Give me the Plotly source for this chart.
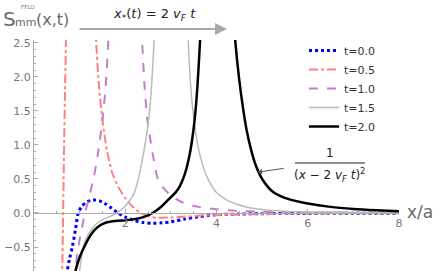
import plotly.graph_objects as go

# ---------------- data ----------------
t_labels = ["t=0.0", "t=0.5", "t=1.0", "t=1.5", "t=2.0"]

x_t00 = [0.70, 0.73, 0.78, 0.84, 0.91, 0.97, 1.05, 1.15, 1.25, 1.34, 1.45, 1.55, 1.68, 1.84,
         2.0, 2.2, 2.4, 2.6, 2.8, 3.0, 3.3, 3.6, 4.0, 4.5, 5.0, 6.0, 7.0, 8.0]
y_t00 = [-1.0, -0.85, -0.67, -0.5, -0.24, 0.0, 0.10, 0.16, 0.185, 0.19, 0.175, 0.14, 0.08, 0.0,
         -0.06, -0.11, -0.14, -0.15, -0.145, -0.13, -0.09, -0.055, -0.025, -0.015, -0.01, -0.006, -0.004, -0.003]

x_t05 = [0.615, 0.625, 0.635, 0.645, 0.66, 0.68, 0.70, 0.72, None,
         1.33, 1.36, 1.42, 1.50, 1.60, 1.72, 1.85, 2.0, 2.15, 2.33, 2.5, 2.7, 3.0, 3.4, 3.8, 4.3, 5.0, 6.0, 7.0, 8.0]
y_t05 = [-1.0, -0.6, -0.2, 0.3, 1.0, 1.8, 2.5, 3.0, None,
         3.0, 2.55, 1.9, 1.37, 0.92, 0.58, 0.38, 0.22, 0.10, 0.0, -0.05, -0.07, -0.065, -0.05, -0.035, -0.025, -0.015, -0.008, -0.005, -0.003]

x_t10 = [0.88, 0.905, 0.96, 1.03, 1.12, 1.21, 1.30, 1.40, 1.50, 1.57, 1.63, 1.66, None,
         2.35, 2.37, 2.42, 2.48, 2.55, 2.62, 2.72, 2.85, 3.0, 3.27, 3.6, 4.0, 4.5, 5.0, 6.0, 7.0, 8.0]
y_t10 = [-1.0, -0.84, -0.55, -0.28, 0.0, 0.24, 0.49, 0.86, 1.37, 1.85, 2.54, 3.0, None,
         3.0, 2.54, 1.9, 1.4, 1.08, 0.8, 0.49, 0.36, 0.26, 0.15, 0.09, 0.055, 0.03, 0.018, 0.008, 0.005, 0.003]

x_t15 = [0.97, 1.02, 1.1, 1.2, 1.35, 1.5, 1.7, 1.9, 2.05, 2.2, 2.32, 2.42, 2.5, 2.57, 2.63, 2.67, None,
         3.35, 3.38, 3.43, 3.5, 3.6, 3.7, 3.82, 4.0, 4.2, 4.4, 4.7, 5.0, 5.5, 6.0, 7.0, 8.0]
y_t15 = [-1.0, -0.75, -0.45, -0.3, -0.17, -0.10, -0.04, 0.04, 0.14, 0.30, 0.60, 0.95, 1.3, 1.8, 2.5, 3.0, None,
         3.0, 2.54, 1.9, 1.4, 0.96, 0.7, 0.49, 0.30, 0.2, 0.14, 0.08, 0.05, 0.025, 0.015, 0.008, 0.005]

x_t20 = [0.88, 0.91, 1.0, 1.1, 1.2, 1.3, 1.45, 1.6, 1.8, 2.0, 2.2, 2.4, 2.6, 2.8, 2.95, 3.1, 3.2, 3.3, 3.4, 3.5, 3.57, 3.64, 3.68, None,
         4.36, 4.41, 4.5, 4.58, 4.66, 4.75, 4.85, 5.0, 5.24, 5.6, 6.0, 6.5, 7.0, 7.5, 8.0]
y_t20 = [-1.0, -0.85, -0.65, -0.5, -0.37, -0.27, -0.18, -0.135, -0.115, -0.105, -0.09, -0.06, 0.0, 0.1, 0.2, 0.30, 0.40, 0.56, 0.82, 1.25, 1.75, 2.54, 3.1, None,
         3.0, 2.54, 1.95, 1.55, 1.22, 0.95, 0.72, 0.50, 0.31, 0.20, 0.14, 0.09, 0.06, 0.04, 0.025]

x_ticks = [2, 4, 6, 8]
y_ticks = [-0.5, 0.0, 0.5, 1.0, 1.5, 2.0, 2.5]

# ---------------- layout geometry ----------------
W, H = 436, 271
ML, MR, MT, MB = 34, 37, 40, 0
PW, PH = W - ML - MR, H - MT - MB
Y_RANGE = [-0.853, 2.544]
X_RANGE = [0, 8]


def px(p):
    return (p - ML) / PW


def py(p):
    return (H - MB - p) / PH


styles = [
    dict(color="#0000FF", width=3, dash="dot"),
    dict(color="#FF8080", width=2, dash="dashdot"),
    dict(color="#C080C8", width=2, dash="dash"),
    dict(color="#BBBBBB", width=1.5, dash="solid"),
    dict(color="#000000", width=2.5, dash="solid"),
]
series = [(x_t00, y_t00), (x_t05, y_t05), (x_t10, y_t10), (x_t15, y_t15), (x_t20, y_t20)]

fig = go.Figure()
for (xs, ys), name, st in zip(series, t_labels, styles):
    fig.add_trace(go.Scatter(x=xs, y=ys, mode="lines", name=name,
                             line=dict(shape="spline", smoothing=0.8, **st),
                             connectgaps=False))

tick_font = dict(family="DejaVu Sans", size=11, color="#777777")
fig.update_layout(
    width=W, height=H,
    margin=dict(l=ML, r=MR, t=MT, b=MB, pad=0, autoexpand=False),
    plot_bgcolor="white", paper_bgcolor="white",
    showlegend=True,
    legend=dict(x=px(304), y=py(36), xanchor="left", yanchor="top",
                font=dict(family="DejaVu Sans", size=11, color="#333333"),
                bgcolor="rgba(0,0,0,0)", tracegroupgap=0),
    xaxis=dict(range=X_RANGE, anchor="free", position=(0 - Y_RANGE[0]) / (Y_RANGE[1] - Y_RANGE[0]),
               automargin=False,
               showline=True, linecolor="#AAAAAA", linewidth=1,
               tickvals=x_ticks, ticks="inside", ticklen=4, tickcolor="#AAAAAA",
               minor=dict(dtick=0.5, ticks="inside", ticklen=2, tickcolor="#AAAAAA"),
               showgrid=False, zeroline=False, tickfont=tick_font),
    yaxis=dict(range=Y_RANGE, automargin=False, showline=True, linecolor="#AAAAAA", linewidth=1,
               tickvals=y_ticks, tickformat=".1f", ticks="inside", ticklen=4, tickcolor="#AAAAAA",
               minor=dict(dtick=0.1, ticks="inside", ticklen=2, tickcolor="#AAAAAA"),
               showgrid=False, zeroline=False, tickfont=tick_font),
)

ann = []
gray = "#6A6A6A"
# y-axis label S_mm^FFLO(x,t)
ann.append(dict(text="S", x=px(9), y=py(19), font=dict(family="DejaVu Sans", size=20, color=gray)))
ann.append(dict(text="mm", x=px(25), y=py(23), font=dict(family="DejaVu Sans", size=11, color=gray)))
ann.append(dict(text="FFLO", x=px(27.5), y=py(7), font=dict(family="DejaVu Sans", size=5.5, color=gray)))
ann.append(dict(text="(x,t)", x=px(52), y=py(19), font=dict(family="DejaVu Sans", size=16, color=gray)))
# x label
ann.append(dict(text="x/a", x=px(420), y=py(212), font=dict(family="DejaVu Sans", size=17, color=gray)))
# top arrow and formula
ann.append(dict(text="", x=px(227), y=py(29), ax=-149, ay=0, showarrow=True,
                arrowhead=2, arrowsize=1.2, arrowwidth=2, arrowcolor="#AAAAAA"))
ann.append(dict(text="<i>x</i><sub>*</sub>(<i>t</i>) = 2 <i>v</i><sub><i>F</i></sub> <i>t</i>",
                x=px(154), y=py(14), font=dict(family="DejaVu Sans", size=13, color="#222222")))
# fraction annotation
ann.append(dict(text="1", x=px(330), y=py(153), font=dict(family="DejaVu Sans", size=12, color="#222222")))
ann.append(dict(text="(<i>x</i> − 2 <i>v</i><sub><i>F</i></sub> <i>t</i>)<sup>2</sup>", x=px(329), y=py(175),
                font=dict(family="DejaVu Sans", size=12, color="#222222")))
ann.append(dict(text="", x=4.89, y=0.60, xref="x", yref="y", ax=28, ay=-4, showarrow=True,
                arrowhead=2, arrowsize=1, arrowwidth=1, arrowcolor="#555555"))

for a in ann:
    a.setdefault("xref", "paper")
    a.setdefault("yref", "paper")
    a.setdefault("showarrow", False)
    a.setdefault("xanchor", "center")
    a.setdefault("yanchor", "middle")
fig.update_layout(annotations=ann)

fig.add_shape(type="line", xref="paper", yref="paper", x0=px(295), x1=px(365), y0=py(163), y1=py(163),
              line=dict(color="#222222", width=1))

fig.write_html("out.html", config={"displayModeBar": False},
               post_script="document.body.style.margin='0';document.body.style.overflow='hidden';")
